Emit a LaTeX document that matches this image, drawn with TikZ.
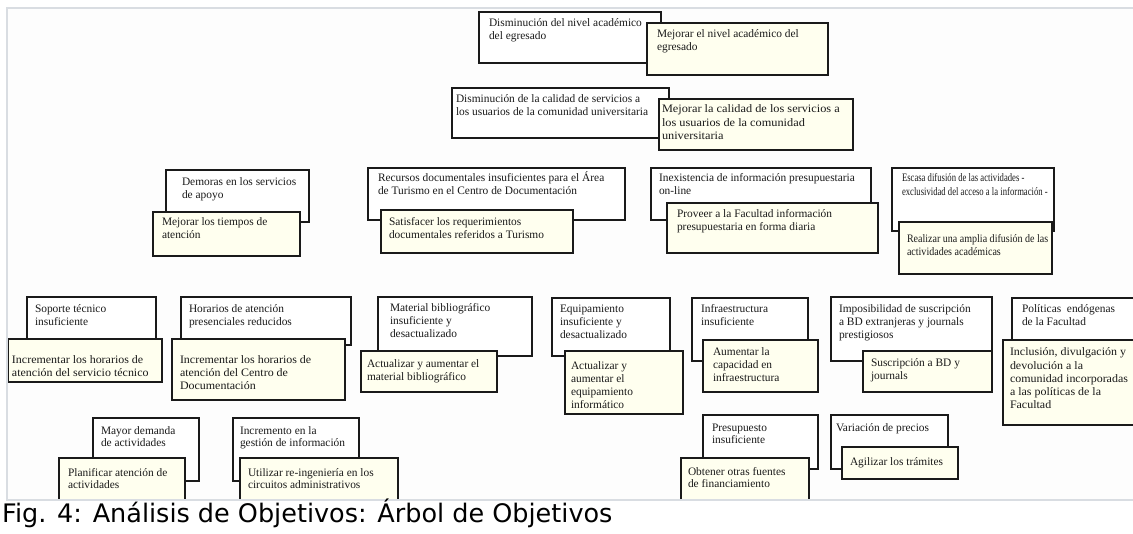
\documentclass[tikz,border=0pt]{standalone}
\usepackage{fontspec}
\setmainfont{Liberation Serif}
\newfontfamily\capfont{DejaVu Sans}
\newfontfamily\narrowA{Liberation Serif}[FakeStretch=0.76]
\newfontfamily\narrowB{Liberation Serif}[FakeStretch=0.88]
\newfontfamily\wideA{Liberation Serif}[FakeStretch=1.08]
\newfontfamily\wideB{Liberation Serif}[FakeStretch=1.05]
\definecolor{cream}{HTML}{FFFFEF}
\definecolor{framegray}{HTML}{D9DDE2}
\definecolor{inbg}{HTML}{FDFDFD}
\definecolor{ink}{HTML}{1A1A1A}
\tikzset{
  cause/.style={draw=ink, line width=1.1pt, fill=white, inner sep=0pt, outer sep=0pt},
  goal/.style={cause, fill=cream},
  txt/.style={inner sep=0pt, outer sep=0pt, align=left, text=ink, font=\fontsize{11.4}{13}\selectfont, anchor=north west},
  frameline/.style={draw=framegray, line width=2pt},
  F1tx/.style={font=\narrowA\fontsize{11.4}{13.5}\selectfont},
  F2tx/.style={font=\narrowB\fontsize{11.4}{13}\selectfont},
  B2tx/.style={font=\wideA\fontsize{11.4}{13.3}\selectfont},
  G2tx/.style={font=\wideB\fontsize{11.4}{13}\selectfont},
  H2tx/.style={font=\wideB\fontsize{11.4}{13}\selectfont},
  M2tx/.style={font=\wideB\fontsize{11.4}{13.2}\selectfont},
}
\newcommand\obox[9]{%
  \node[#6, minimum width={(#4)-(#2)}, minimum height={(#5)-(#3)}] (#1) at ({((#2)+(#4))/2},{((#3)+(#5))/2}) {};
  \node[txt, #1tx/.try] (#1t) at (#7,{(#8)-11}) {\rule{0pt}{11pt}#9};
}
\begin{document}
\begin{tikzpicture}[x=1pt,y=-1pt]
\useasboundingbox (0,0) rectangle (1133,534);
\fill[white] (0,0) rectangle (1133,534);
\fill[inbg] (8,9) rectangle (1133,499);
\begin{scope}
\clip (8,9) rectangle (1133,499);
\obox{A1}{479}{12}{661}{63}{cause}{489}{27}{Disminución del nivel académico\\del egresado}
\obox{A2}{647}{23}{828}{75}{goal}{657}{38}{Mejorar el nivel académico del\\egresado}
\obox{B1}{452}{88}{669}{138}{cause}{456}{103}{Disminución de la calidad de servicios a\\los usuarios de la comunidad universitaria}
\obox{B2}{659}{99}{853}{150}{goal}{662}{113}{Mejorar la calidad de los servicios a\\los usuarios de la comunidad\\universitaria}
\obox{C1}{166}{170}{309}{222}{cause}{182}{186}{Demoras en los servicios\\de apoyo}
\obox{C2}{153}{212}{300}{256}{goal}{162}{226}{Mejorar los tiempos de\\atención}
\obox{D1}{368}{168}{625}{220}{cause}{378}{182}{Recursos documentales insuficientes para el Área\\de Turismo en el Centro de Documentación}
\obox{D2}{381}{210}{573}{253}{goal}{389}{226}{Satisfacer los requerimientos\\documentales referidos a Turismo}
\obox{E1}{651}{168}{871}{220}{cause}{659}{182}{Inexistencia de información presupuestaria\\on-line}
\obox{E2}{667}{203}{878}{253}{goal}{677}{218}{Proveer a la Facultad información\\presupuestaria en forma diaria}
\obox{F1}{892}{168}{1054}{231}{cause}{902}{182}{Escasa difusión de las actividades -\\exclusividad del acceso a la información -}
\obox{F2}{899}{222}{1052}{274}{goal}{907}{243}{Realizar una amplia difusión de las\\actividades académicas}
\obox{G1}{27}{297}{156}{339}{cause}{35}{313}{Soporte técnico\\insuficiente}
\obox{G2}{8}{339}{162}{382}{goal}{12}{364}{Incrementar los horarios de\\atención del servicio técnico}
\obox{H1}{181}{297}{351}{345}{cause}{189}{313}{Horarios de atención\\presenciales reducidos}
\obox{H2}{172}{339}{345}{400}{goal}{180}{364}{Incrementar los horarios de\\atención del Centro de\\Documentación}
\obox{I1}{378}{297}{532}{356}{cause}{390}{312}{Material bibliográfico\\insuficiente y\\desactualizado}
\obox{I2}{361}{351}{497}{392}{goal}{367}{368}{Actualizar y aumentar el\\material bibliográfico}
\obox{J1}{552}{298}{670}{356}{cause}{560}{313}{Equipamiento\\insuficiente y\\desactualizado}
\obox{J2}{565}{351}{683}{414}{goal}{571}{370}{Actualizar y\\aumentar el\\equipamiento\\informático}
\obox{K1}{692}{298}{808}{361}{cause}{701}{313}{Infraestructura\\insuficiente}
\obox{K2}{703}{340}{818}{392}{goal}{713}{356}{Aumentar la\\capacidad en\\infraestructura}
\obox{L1}{831}{297}{992}{361}{cause}{839}{313}{Imposibilidad de suscripción\\a BD extranjeras y journals\\prestigiosos}
\obox{L2}{863}{351}{992}{392}{goal}{871}{367}{Suscripción a BD y\\journals}
\obox{M1}{1012}{298}{1140}{340}{cause}{1022}{313}{Políticas\ \ endógenas\\de la Facultad}
\obox{M2}{1003}{340}{1140}{425}{goal}{1010}{356}{Inclusión, divulgación y\\devolución a la\\comunidad incorporadas\\a las políticas de la\\Facultad}
\obox{N1}{703}{415}{818}{469}{cause}{712}{431}{Presupuesto\\insuficiente}
\obox{N2}{681}{458}{809}{510}{goal}{688}{475}{Obtener otras fuentes\\de financiamiento}
\obox{O1}{831}{415}{948}{469}{cause}{836}{432}{Variación de precios}
\obox{O2}{842}{447}{958}{479}{goal}{850}{465}{Agilizar los trámites}
\obox{P1}{93}{418}{199}{481}{cause}{101}{434}{Mayor demanda\\de actividades}
\obox{P2}{59}{458}{185}{510}{goal}{68}{476}{Planificar atención de\\actividades}
\obox{Q1}{233}{418}{359}{481}{cause}{240}{434}{Incremento en la\\gestión de información}
\obox{Q2}{240}{458}{398}{510}{goal}{248}{476}{Utilizar re-ingeniería en los\\circuitos administrativos}
\end{scope}
\draw[frameline] (7,500) -- (7,8.5) -- (1133,8.5);
\draw[frameline] (6,500) -- (1133,500);
\node[anchor=base west, inner sep=0pt, text=black, font=\capfont\fontsize{25.5}{30}\selectfont] (cap) at (2,522) {Fig. 4: Análisis de Objetivos: Árbol de Objetivos};
\end{tikzpicture}
\end{document}
